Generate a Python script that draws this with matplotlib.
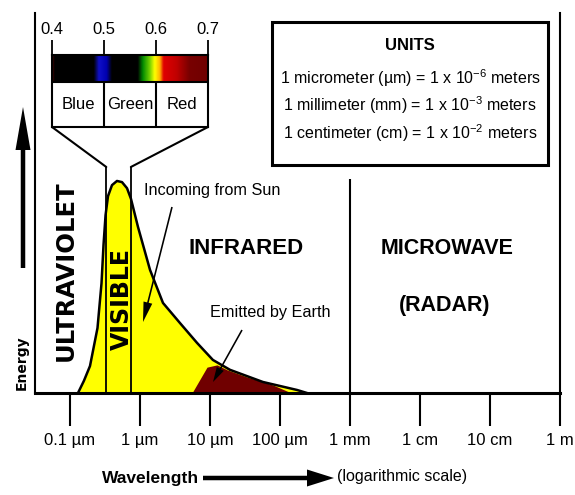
import numpy as np
import matplotlib
matplotlib.use("Agg")
import matplotlib.pyplot as plt
from matplotlib.colors import LinearSegmentedColormap, Normalize
from matplotlib.patches import FancyArrow, Rectangle, ConnectionPatch
from matplotlib.ticker import NullLocator

# ---------------- data ----------------
tick_values_um = [0.1, 1, 10, 100, 1e3, 1e4, 1e5, 1e6]
tick_labels = ["0.1 µm", "1 µm", "10 µm", "100 µm", "1 mm", "1 cm", "10 cm", "1 m"]

sun_wavelength_um = [0.130, 0.158, 0.193, 0.247, 0.282, 0.301, 0.322, 0.349, 0.398,
                     0.469, 0.553, 0.652, 0.743, 0.936, 1.39, 2.13, 3.73, 6.52,
                     11.0, 19.3, 57.0, 175.0, 243.0]
sun_energy = [0.0, 0.032, 0.071, 0.171, 0.289, 0.389, 0.468, 0.518, 0.547,
              0.558, 0.555, 0.539, 0.511, 0.437, 0.324, 0.237, 0.184, 0.132,
              0.087, 0.061, 0.029, 0.008, 0.0]

earth_wavelength_um = [5.53, 9.06, 12.6, 17.5, 33.8, 79.4, 126.0, 148.0]
earth_energy = [0.0, 0.068, 0.074, 0.061, 0.042, 0.021, 0.005, 0.0]

visible_band_um = [0.33, 0.74]
ir_microwave_boundary_um = 1000

spectrum_ticks = [0.4, 0.5, 0.6, 0.7]
spectrum_tick_labels = ["0.4", "0.5", "0.6", "0.7"]
color_names = ["Blue", "Green", "Red"]
color_name_centers = [0.45, 0.55, 0.65]
spectrum_stop_wl = [0.400, 0.404, 0.480, 0.490, 0.505, 0.515, 0.565, 0.575, 0.588,
                    0.598, 0.608, 0.615, 0.640, 0.665, 0.700]
spectrum_stop_col = ["#500000", "#000000", "#000000", "#1010c8", "#0000b0", "#000000",
                     "#000000", "#008a00", "#70d000", "#ffff00", "#ffb000", "#e00000",
                     "#c00000", "#780000", "#700000"]

units_title = "UNITS"
units_lines = ["1 micrometer (µm) = 1 x 10$^{-6}$ meters",
               "1 millimeter (mm) = 1 x 10$^{-3}$ meters",
               "1 centimeter (cm) = 1 x 10$^{-2}$ meters"]

# ---------------- style ----------------
NARROW = ["Liberation Sans", "DejaVu Sans"]
WIDE = ["DejaVu Sans"]
plt.rcParams["font.family"] = NARROW
plt.rcParams["mathtext.default"] = "regular"

W, H = 575, 495
fig = plt.figure(figsize=(W / 100, H / 100), dpi=100, facecolor="white")


def fx(px):
    return px / W


def fy(py):
    return 1 - py / H


# ---------------- main axes ----------------
ax = fig.add_axes([fx(35), fy(393), (560 - 35) / W, (393 - 13) / H])
ax.set_xscale("log")
ax.set_xlim(10 ** -1.5, 1e6)
ax.set_ylim(0, 1)

ax.fill_between(sun_wavelength_um, sun_energy, 0, color="#ffff00", lw=0, zorder=1)
ax.fill_between(earth_wavelength_um, earth_energy, 0, color="#700000", lw=0, zorder=2)
ax.plot(sun_wavelength_um, sun_energy, color="black", lw=1.8, zorder=3,
        solid_joinstyle="round")

vis_top = (393 - 167) / 380
ax.vlines(visible_band_um, 0, vis_top, color="black", lw=1.3, zorder=4)
ax.vlines(ir_microwave_boundary_um, 0, (393 - 179) / 380, color="black", lw=1.5, zorder=4)

ax.set_xticks(tick_values_um)
ax.set_xticklabels(tick_labels)
ax.xaxis.set_minor_locator(NullLocator())
ax.set_yticks([])
ax.tick_params(axis="x", length=24, width=1.5, pad=5, labelsize=12, direction="out")
ax.spines["top"].set_visible(False)
ax.spines["left"].set_linewidth(1.5)
ax.spines["right"].set_linewidth(1.5)
ax.spines["bottom"].set_linewidth(2.2)

# ---------------- spectrum inset ----------------
sax = fig.add_axes([fx(52), fy(127), (208 - 52) / W, (127 - 55) / H])
sax.set_xlim(0.4, 0.7)
sax.set_ylim(0, 1)
split = (127 - 82) / (127 - 55)
pos = np.clip((np.array(spectrum_stop_wl) - spectrum_stop_wl[0])
              / (spectrum_stop_wl[-1] - spectrum_stop_wl[0]), 0, 1)
pos[0], pos[-1] = 0.0, 1.0
cmap = LinearSegmentedColormap.from_list("spec", list(zip(pos, spectrum_stop_col)))
lam = np.linspace(0.4, 0.7, 600)
sax.imshow(lam[None, :], extent=(0.4, 0.7, split, 1), aspect="auto", cmap=cmap,
           norm=Normalize(0.4, 0.7), interpolation="bilinear")
sax.axhline(split, color="black", lw=1.5)
sax.vlines([0.5, 0.6], 0, split, color="black", lw=1.5)
sax.xaxis.tick_top()
sax.set_xticks(spectrum_ticks)
sax.set_xticklabels(spectrum_tick_labels)
sax.set_yticks([])
sax.tick_params(axis="x", length=11, width=1.3, pad=2, labelsize=12)
for s in sax.spines.values():
    s.set_linewidth(1.5)
for name, c in zip(color_names, color_name_centers):
    sax.text(c, split / 2, name, ha="center", va="center", fontsize=12)

# funnel from spectrum box to the visible band
for xa, xb in zip([0.4, 0.7], visible_band_um):
    con = ConnectionPatch(xyA=(xa, 0), coordsA=sax.transData,
                          xyB=(xb, vis_top), coordsB=ax.transData,
                          color="black", lw=1.5)
    fig.add_artist(con)

# ---------------- units box ----------------
rect = Rectangle((fx(272), fy(165)), (548 - 272) / W, (165 - 22) / H,
                 transform=fig.transFigure, fill=False, ec="black", lw=2.2)
fig.add_artist(rect)
fig.text(fx(410), fy(45), units_title, ha="center", va="center", fontsize=12,
         fontweight="bold")
for yy, line in zip([78, 105, 133], units_lines):
    fig.text(fx(410), fy(yy), line, ha="center", va="center", fontsize=11.5)

# ---------------- region labels ----------------
fig.text(fx(65.5), fy(271), "ULTRAVIOLET", rotation=90, ha="center", va="center",
         fontsize=17.5, fontweight="bold", family=WIDE)
fig.text(fx(121.5), fy(299), "VISIBLE", rotation=90, ha="center", va="center",
         fontsize=17, fontweight="bold", family=WIDE)
fig.text(fx(22), fy(363), "Energy", rotation=90, ha="center", va="center",
         fontsize=10, fontweight="bold", family=WIDE)
fig.text(fx(246), fy(249), "INFRARED", ha="center", va="center", fontsize=16,
         fontweight="bold")
fig.text(fx(447), fy(248), "MICROWAVE", ha="center", va="center", fontsize=15.5,
         fontweight="bold")
fig.text(fx(445), fy(305), "(RADAR)", ha="center", va="center", fontsize=15.5,
         fontweight="bold")
fig.text(fx(212), fy(190), "Incoming from Sun", ha="center", va="center", fontsize=11.7)
fig.text(fx(270), fy(313), "Emitted by Earth", ha="center", va="center", fontsize=11.7)
fig.text(fx(151), fy(478), "Wavelength", ha="center", va="center", fontsize=12.5,
         fontweight="bold")
fig.text(fx(402), fy(476), "(logarithmic scale)", ha="center", va="center", fontsize=11.5)

# ---------------- arrows (inches) ----------------
def arrow(x0, y0, x1, y1, width, hw, hl):
    a = FancyArrow(x0 / 100, (H - y0) / 100, (x1 - x0) / 100, -(y1 - y0) / 100,
                   width=width, head_width=hw, head_length=hl,
                   length_includes_head=True, color="black", lw=0,
                   transform=fig.dpi_scale_trans)
    fig.add_artist(a)


arrow(203, 478, 334, 478, 0.045, 0.17, 0.27)   # wavelength
arrow(23, 268, 23, 107, 0.045, 0.15, 0.43)     # energy
arrow(172, 207, 143, 322, 0.016, 0.09, 0.2)    # incoming from sun
arrow(242, 330, 213, 382, 0.016, 0.08, 0.15)   # emitted by earth

fig.savefig("out.png", dpi=100, facecolor="white")
